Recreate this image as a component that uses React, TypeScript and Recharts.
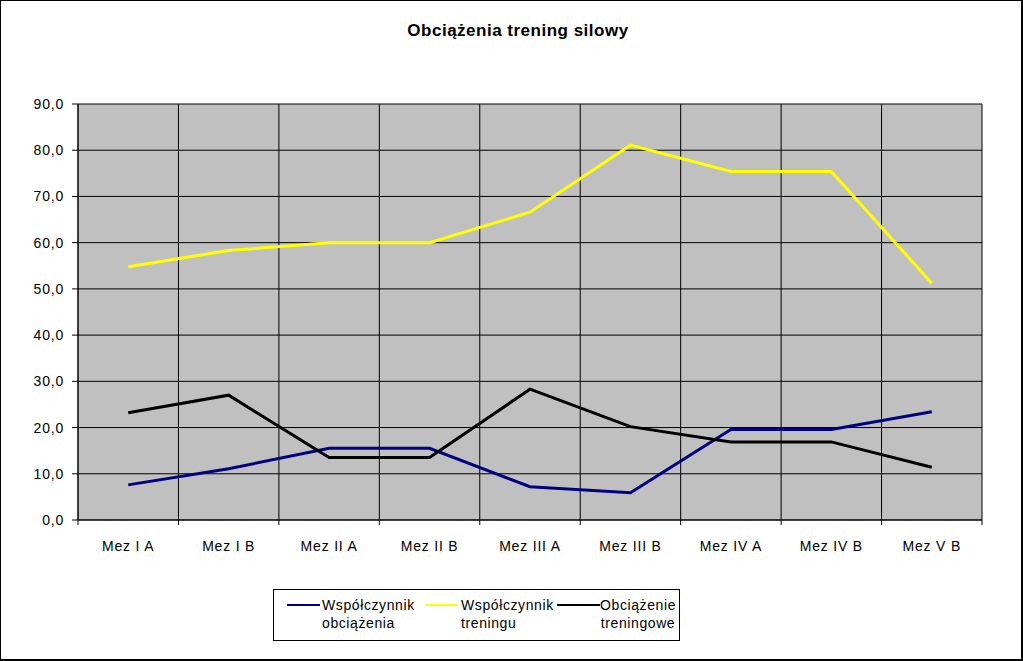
import React from "react";
import { LineChart, Line, XAxis, YAxis, CartesianGrid, Legend } from "recharts";

// values
const CATEGORIES = ["Mez I A", "Mez I B", "Mez II A", "Mez II B", "Mez III A", "Mez III B", "Mez IV A", "Mez IV B", "Mez V B"];
const WSP_OBCIAZENIA = [7.6, 11.1, 15.5, 15.5, 7.2, 5.9, 19.6, 19.6, 23.4];
const WSP_TRENINGU = [54.8, 58.3, 60.0, 60.0, 66.6, 81.1, 75.4, 75.4, 51.2];
const OBC_TRENINGOWE = [23.2, 27.0, 13.5, 13.5, 28.3, 20.2, 16.9, 16.9, 11.4];
const Y_TICKS = [0, 10, 20, 30, 40, 50, 60, 70, 80, 90];

const SERIES = [
  { key: "wspObc", name: ["Współczynnik", "obciążenia"], color: "#000080" },
  { key: "wspTren", name: ["Współczynnik", "treningu"], color: "#ffff00" },
  { key: "obcTren", name: ["Obciążenie", "treningowe"], color: "#000000" },
];

const data = CATEGORIES.map((c, i) => ({
  cat: c,
  wspObc: WSP_OBCIAZENIA[i],
  wspTren: WSP_TRENINGU[i],
  obcTren: OBC_TRENINGOWE[i],
}));

const W = 1023;
const H = 661;
const PLOT_LEFT = 78;
const PLOT_RIGHT = 41;
const BAND = (W - PLOT_LEFT - PLOT_RIGHT) / CATEGORIES.length;
const FONT = "Arial, 'Liberation Sans', sans-serif";

function XTick(props: any) {
  const { x, y, payload, index } = props;
  return (
    <g>
      <line x1={x - BAND / 2} x2={x - BAND / 2} y1={y} y2={y + 5} stroke="#000" />
      {index === CATEGORIES.length - 1 && (
        <line x1={x + BAND / 2} x2={x + BAND / 2} y1={y} y2={y + 5} stroke="#000" />
      )}
      <text x={x} y={y + 31} textAnchor="middle" fontSize={14} letterSpacing={0.8} fill="#000" fontFamily={FONT}>
        {payload.value}
      </text>
    </g>
  );
}

function LegendBox() {
  const items = [
    { line: [13, 33], text: 48, align: "left" as const },
    { line: [151, 33], text: 187, align: "left" as const },
    { line: [283, 43], text: 326, align: "center" as const },
  ];
  return (
    <div
      style={{
        width: 405,
        height: 50,
        border: "1px solid #000",
        background: "#fff",
        position: "relative",
        fontFamily: FONT,
        fontSize: 14,
        letterSpacing: 0.6,
        color: "#000",
      }}
    >
      {SERIES.map((s, i) => (
        <React.Fragment key={s.key}>
          <div
            style={{
              position: "absolute",
              left: items[i].line[0],
              top: 14,
              width: items[i].line[1],
              height: 2,
              background: s.color,
            }}
          />
          <div
            style={{
              position: "absolute",
              left: items[i].text,
              top: 6,
              lineHeight: "18px",
              textAlign: items[i].align,
              whiteSpace: "nowrap",
            }}
          >
            {s.name[0]}
            <br />
            {s.name[1]}
          </div>
        </React.Fragment>
      ))}
    </div>
  );
}

export default function App() {
  return (
    <div style={{ position: "absolute", left: 0, top: 0, width: W, height: H, background: "#fff" }}>
      <div
        style={{
          position: "absolute",
          left: 0,
          top: 21,
          width: W,
          textAlign: "center",
          paddingLeft: 13,
          boxSizing: "border-box",
          fontFamily: FONT,
          fontWeight: "bold",
          fontSize: 17,
          letterSpacing: 0.5,
          zIndex: 2,
        }}
      >
        Obciążenia trening silowy
      </div>
      <LineChart
        width={W}
        height={H}
        data={data}
        margin={{ top: 104, right: PLOT_RIGHT, bottom: 101, left: PLOT_LEFT - 60 }}
      >
        <CartesianGrid
          fill="#c0c0c0"
          stroke="#000"
          strokeOpacity={1}
          verticalCoordinatesGenerator={({ offset }: any) =>
            CATEGORIES.map((_, i) => offset.left + ((i + 1) * offset.width) / CATEGORIES.length)
          }
        />
        <XAxis
          dataKey="cat"
          height={40}
          tickSize={0}
          tickMargin={0}
          tickLine={false}
          interval={0}
          padding={{ left: BAND / 2, right: BAND / 2 }}
          axisLine={{ stroke: "#000" }}
          tick={<XTick />}
        />
        <YAxis
          width={60}
          domain={[0, 90]}
          ticks={Y_TICKS}
          tickSize={6}
          tickMargin={8}
          axisLine={{ stroke: "#000", strokeWidth: 1.5 }}
          tickLine={{ stroke: "#000" }}
          tickFormatter={(v: number) => v.toFixed(1).replace(".", ",")}
          tick={{ fontSize: 14, fill: "#000", fontFamily: FONT, letterSpacing: 0.8 }}
        />
        <Legend
          layout="vertical"
          align="center"
          verticalAlign="middle"
          wrapperStyle={{ left: 273, top: 589, width: 407, height: 52 }}
          content={() => <LegendBox />}
        />
        {SERIES.map((s) => (
          <Line
            key={s.key}
            dataKey={s.key}
            type="linear"
            stroke={s.color}
            strokeWidth={3}
            dot={false}
            activeDot={false}
            isAnimationActive={false}
          />
        ))}
      </LineChart>
      <div
        style={{
          position: "absolute",
          left: 0,
          top: 0,
          width: W,
          height: H,
          boxSizing: "border-box",
          border: "1px solid #000",
          borderRightWidth: 2,
          borderBottomWidth: 2,
          pointerEvents: "none",
        }}
      />
    </div>
  );
}
